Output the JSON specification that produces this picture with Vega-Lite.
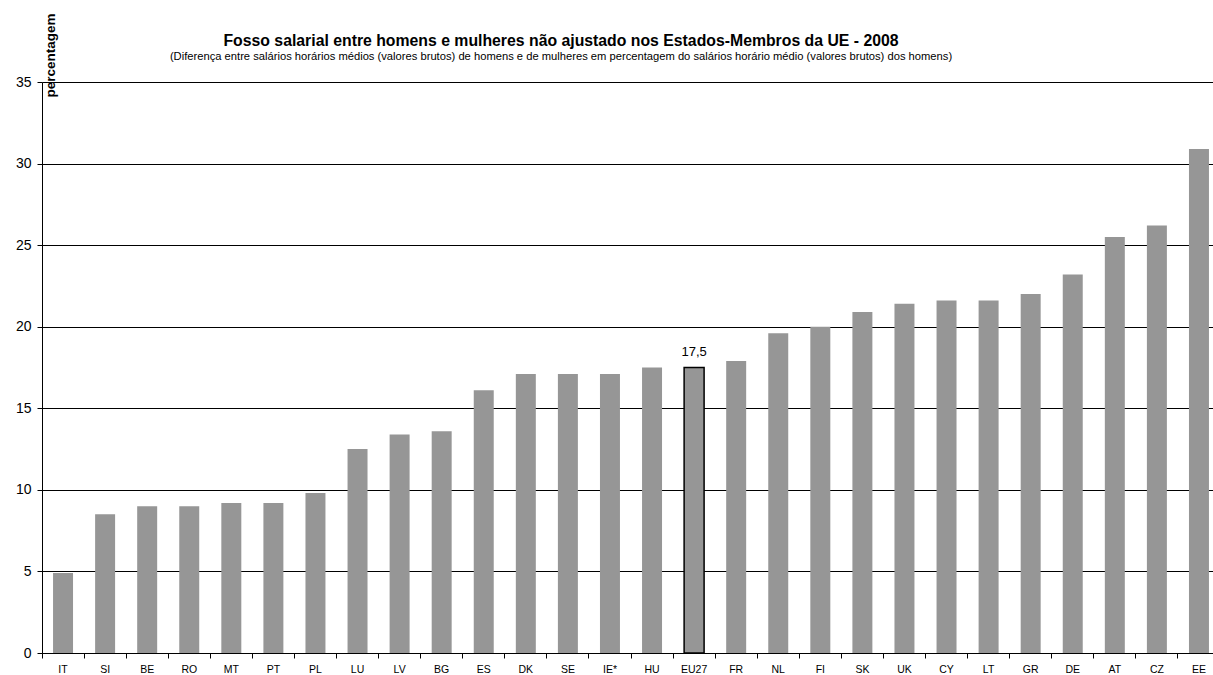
{
  "$schema": "https://vega.github.io/schema/vega-lite/v6.json",
  "width": 1178,
  "height": 571,
  "autosize": {"type": "none"},
  "padding": {"left": 42, "top": 82, "right": -7, "bottom": 22},
  "background": "white",
  "title": {
    "text": "Fosso salarial entre homens e mulheres não ajustado nos Estados-Membros da UE - 2008",
    "subtitle": "(Diferença entre salários horários médios (valores brutos) de homens e de mulheres em percentagem do salários horário médio (valores brutos) dos homens)",
    "anchor": "middle",
    "frame": "group",
    "dx": -70,
    "offset": -50,
    "font": "Liberation Sans",
    "fontSize": 15.8,
    "fontWeight": "bold",
    "color": "#000",
    "subtitleFont": "Liberation Sans",
    "subtitleFontSize": 11.2,
    "subtitleColor": "#000",
    "subtitlePadding": 1
  },
  "data": {
    "values": [
      {"c": "IT", "v": 4.9},
      {"c": "SI", "v": 8.5},
      {"c": "BE", "v": 9.0},
      {"c": "RO", "v": 9.0},
      {"c": "MT", "v": 9.2},
      {"c": "PT", "v": 9.2},
      {"c": "PL", "v": 9.8},
      {"c": "LU", "v": 12.5},
      {"c": "LV", "v": 13.4},
      {"c": "BG", "v": 13.6},
      {"c": "ES", "v": 16.1},
      {"c": "DK", "v": 17.1},
      {"c": "SE", "v": 17.1},
      {"c": "IE*", "v": 17.1},
      {"c": "HU", "v": 17.5},
      {"c": "EU27", "v": 17.5},
      {"c": "FR", "v": 17.9},
      {"c": "NL", "v": 19.6},
      {"c": "FI", "v": 20.0},
      {"c": "SK", "v": 20.9},
      {"c": "UK", "v": 21.4},
      {"c": "CY", "v": 21.6},
      {"c": "LT", "v": 21.6},
      {"c": "GR", "v": 22.0},
      {"c": "DE", "v": 23.2},
      {"c": "AT", "v": 25.5},
      {"c": "CZ", "v": 26.2},
      {"c": "EE", "v": 30.9}
    ]
  },
  "encoding": {
    "x": {
      "field": "c",
      "type": "nominal",
      "sort": null,
      "scale": {"paddingInner": 0, "paddingOuter": 0},
      "axis": {
        "title": null,
        "labelAngle": 0,
        "bandPosition": 0,
        "tickSize": 5,
        "tickColor": "#000",
        "domainColor": "#000",
        "labelFont": "Liberation Sans",
        "labelFontSize": 10.5,
        "labelColor": "#000",
        "labelPadding": 6,
        "labelBaseline": "top",
        "grid": false
      }
    },
    "y": {
      "field": "v",
      "type": "quantitative",
      "scale": {"domain": [0, 35], "nice": false},
      "axis": {
        "title": "percentagem",
        "titleAngle": 270,
        "titleX": 8,
        "titleY": -27,
        "titleAlign": "center",
        "titleBaseline": "middle",
        "titleFont": "Liberation Sans",
        "titleFontSize": 13.5,
        "titleFontWeight": "bold",
        "titleColor": "#000",
        "values": [0, 5, 10, 15, 20, 25, 30, 35],
        "grid": true,
        "gridColor": "#000",
        "gridOpacity": 1,
        "gridWidth": 1,
        "tickSize": 5,
        "tickColor": "#000",
        "domainColor": "#000",
        "labelFont": "Liberation Sans",
        "labelFontSize": 14,
        "labelColor": "#000",
        "labelPadding": 6
      }
    }
  },
  "layer": [
    {
      "mark": {"type": "bar", "width": {"band": 0.475}, "color": "#969696"},
      "encoding": {
        "stroke": {"condition": {"test": "datum.c === 'EU27'", "value": "#000"}, "value": null},
        "strokeWidth": {"value": 1.5}
      }
    },
    {
      "transform": [{"filter": "datum.c === 'EU27'"}],
      "mark": {"type": "text", "baseline": "bottom", "dy": -9, "font": "Liberation Sans", "fontSize": 13, "color": "#000"},
      "encoding": {
        "text": {"field": "v", "type": "quantitative", "format": ".1f"}
      }
    }
  ],
  "config": {
    "view": {"stroke": null},
    "locale": {
      "number": {"decimal": ",", "thousands": ".", "grouping": [3], "currency": ["", " €"]}
    }
  }
}
